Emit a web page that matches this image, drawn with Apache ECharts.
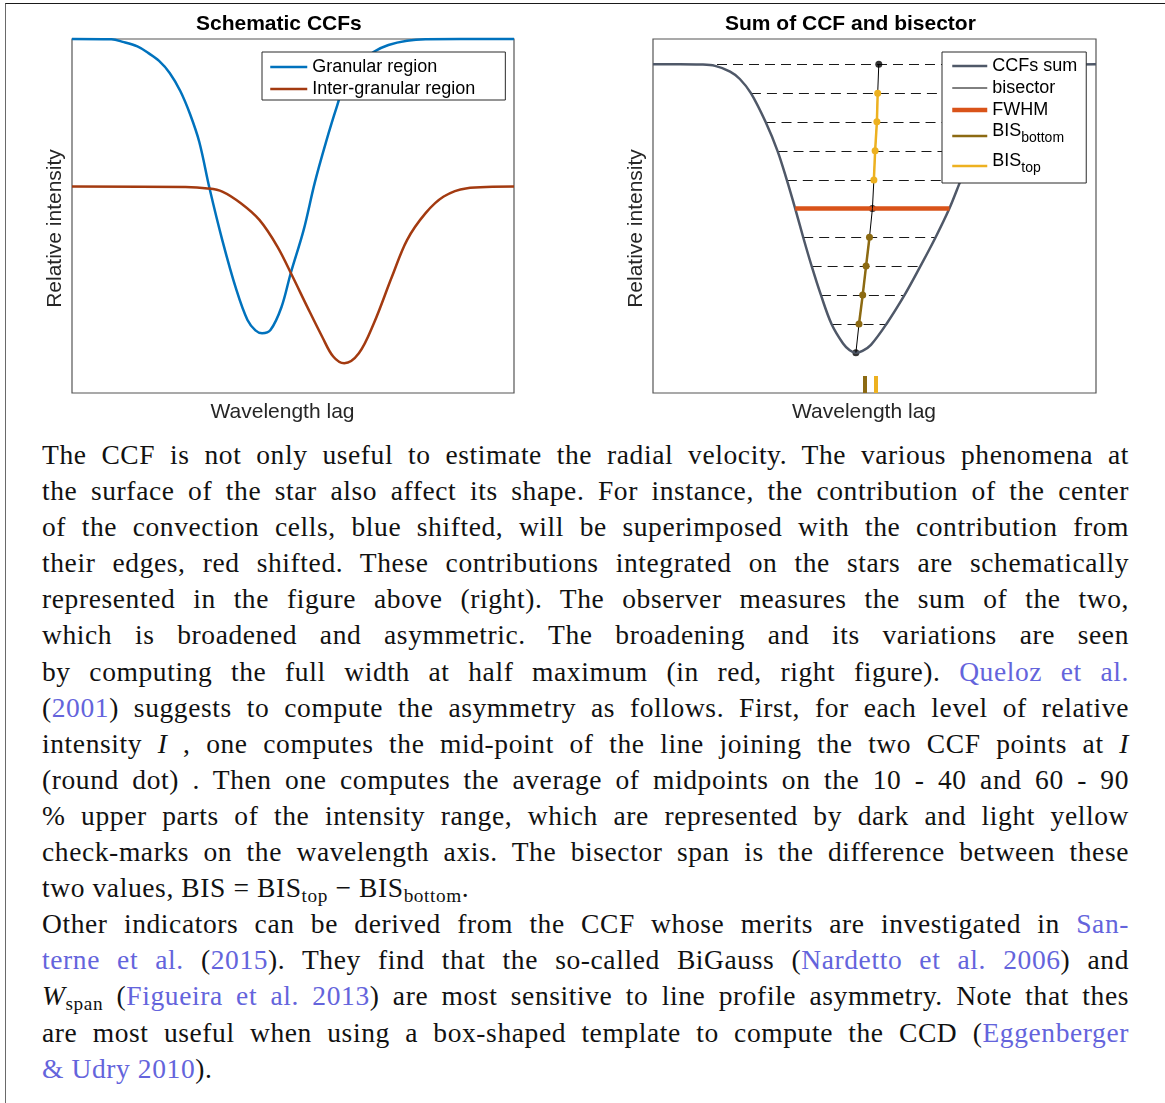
<!DOCTYPE html>
<html>
<head>
<meta charset="utf-8">
<title>Schematic CCFs and bisector</title>
<script src="https://cdn.jsdelivr.net/npm/echarts@6/dist/echarts.min.js"></script>
<style>
  html, body { margin: 0; padding: 0; background: #fff; }
  body { width: 1165px; height: 1103px; position: relative; overflow: hidden; }
  #frame { position: absolute; left: 5px; top: 3px; right: 0; bottom: 0;
           border-top: 1.5px solid #1a1a1a; border-left: 1px solid #6a6a6a; }
  #chart { position: absolute; left: 0; top: 0; width: 1165px; height: 430px; }
  #text { position: absolute; left: 42px; top: 437px; width: 1087px;
          font-family: "Liberation Serif", "DejaVu Serif", serif;
          font-size: 26px; line-height: 36.1px; color: #111; }
  #text .ln { text-align: justify; text-align-last: justify; height: 36.1px; }
  #text .last { text-align: left; text-align-last: left; }
  .cite { color: #6464dc; }
  sub { font-size: 0.7em; vertical-align: -0.28em; line-height: 0; }
</style>
</head>
<body>
<div id="frame"></div>
<div id="chart"></div>
<div id="text">
  <div class="ln">The CCF is not only useful to estimate the radial velocity. The various phenomena at</div>
  <div class="ln">the surface of the star also affect its shape. For instance, the contribution of the center</div>
  <div class="ln">of the convection cells, blue shifted, will be superimposed with the contribution from</div>
  <div class="ln">their edges, red shifted. These contributions integrated on the stars are schematically</div>
  <div class="ln">represented in the figure above (right). The observer measures the sum of the two,</div>
  <div class="ln">which is broadened and asymmetric. The broadening and its variations are seen</div>
  <div class="ln">by computing the full width at half maximum (in red, right figure). <span class="cite">Queloz et al.</span></div>
  <div class="ln">(<span class="cite">2001</span>) suggests to compute the asymmetry as follows. First, for each level of relative</div>
  <div class="ln">intensity <i>I</i> , one computes the mid-point of the line joining the two CCF points at <i>I</i></div>
  <div class="ln">(round dot) . Then one computes the average of midpoints on the 10 - 40 and 60 - 90</div>
  <div class="ln">% upper parts of the intensity range, which are represented by dark and light yellow</div>
  <div class="ln">check-marks on the wavelength axis. The bisector span is the difference between these</div>
  <div class="ln last">two values, BIS = BIS<sub>top</sub> &minus; BIS<sub>bottom</sub>.</div>
  <div class="ln">Other indicators can be derived from the CCF whose merits are investigated in <span class="cite">San-</span></div>
  <div class="ln"><span class="cite">terne et al.</span> (<span class="cite">2015</span>). They find that the so-called BiGauss (<span class="cite">Nardetto et al. 2006</span>) and</div>
  <div class="ln"><i>W</i><sub>span</sub> (<span class="cite">Figueira et al. 2013</span>) are most sensitive to line profile asymmetry. Note that thes</div>
  <div class="ln">are most useful when using a box-shaped template to compute the CCD (<span class="cite">Eggenberger</span></div>
  <div class="ln last"><span class="cite">&amp; Udry 2010</span>).</div>
</div>
<script>
// ---- left panel : the two schematic CCFs (x = % of lag window, y = relative intensity)
var granX = [0, 8.9, 11.5, 14.8, 17.3, 19.7, 22.1, 24.5, 26.7, 28.8, 31.1, 34.0, 37.2, 39.7, 41.5, 43.0,
             44.9, 47.4, 49.5, 52.4, 54.9, 57.4, 59.9, 62.4, 65.2, 68.3, 71.6, 75.8, 80.0, 100];
var granY = [1.000, 0.999, 0.992, 0.979, 0.960, 0.938, 0.904, 0.853, 0.788, 0.709, 0.579, 0.432, 0.291, 0.206, 0.177, 0.169,
             0.178, 0.243, 0.339, 0.460, 0.593, 0.706, 0.808, 0.898, 0.935, 0.964, 0.983, 0.995, 0.999, 1.000];

var interX = [0, 25.7, 30.7, 34.0, 38.2, 42.4, 46.5, 49.9, 53.2, 56.6, 59.1, 61.6,
              64.9, 68.3, 72.4, 75.8, 80.0, 84.1, 89.1, 100];
var interY = [0.583, 0.582, 0.578, 0.569, 0.536, 0.489, 0.413, 0.329, 0.244, 0.159, 0.103, 0.084,
              0.112, 0.197, 0.329, 0.432, 0.508, 0.555, 0.578, 0.583];

// ---- right panel : summed CCF
var sumX = [0, 6.1, 10.6, 14.0, 17.4, 19.6, 22.1, 25.4, 28.1, 30.2, 32.1, 33.9, 35.8, 37.9, 40.3, 42.9, 44.4, 45.8,
            47.3, 49.2, 52.7, 56.8, 60.4, 63.8, 66.9, 69.5, 72.2, 75.6, 79.4, 82.8, 87.4, 91.9, 100];
var sumY = [0.929, 0.929, 0.928, 0.924, 0.908, 0.887, 0.847, 0.766, 0.684, 0.602, 0.521, 0.440, 0.359, 0.277, 0.195, 0.140, 0.121, 0.114,
            0.119, 0.136, 0.195, 0.277, 0.359, 0.440, 0.521, 0.602, 0.684, 0.766, 0.847, 0.896, 0.918, 0.927, 0.929];

// intensity levels (continuum -> minimum) and the bisector mid-points
var levelY = [0.929, 0.847, 0.766, 0.684, 0.602, 0.521, 0.440, 0.359, 0.277, 0.195, 0.114];
var bisX   = [50.97, 50.72, 50.54, 50.14, 49.86, 49.53, 48.87, 48.10, 47.34, 46.50, 45.80];
// dashed level lines : left / right ends
var dashLeft  = [0, 22.1, 25.4, 28.1, 30.2, 32.1, 33.9, 35.8, 37.9, 40.3];
var dashRight = [100, 79.4, 75.6, 72.2, 69.5, 66.9, 63.8, 60.4, 56.8, 52.7];
var fwhmLevel = 5;
var topIdx = [1, 2, 3, 4];
var bottomIdx = [6, 7, 8, 9];
var dotIdx = [0, 5, 10];
var checkHeight = 0.048;

var C = {
    gran: '#0072bd', inter: '#a33a10', sum: '#4f5868', fwhm: '#d95319',
    bisBottom: '#8c6a12', bisTop: '#edb120', axis: '#555555', text: '#262626'
};
var FONT = 'Liberation Sans';

function zip(xs, ys) {
    var out = [];
    for (var i = 0; i < xs.length; i++) out.push([xs[i], ys[i]]);
    return out;
}
function pick(idx) {
    return idx.map(function(i) { return [bisX[i], levelY[i]]; });
}
function mean(idx) {
    var s = 0;
    idx.forEach(function(i) { s += bisX[i]; });
    return s / idx.length;
}

var dashData = [];
for (var i = 0; i < dashLeft.length; i++) {
    dashData.push({ coords: [[dashLeft[i], levelY[i]], [dashRight[i], levelY[i]]] });
}
var bisBottomMean = mean(bottomIdx), bisTopMean = mean(topIdx);

function axisX(idx) {
    return {
        gridIndex: idx, type: 'value', min: 0, max: 100,
        axisLine: { show: false }, axisTick: { show: false }, axisLabel: { show: false }, splitLine: { show: false },
        name: 'Wavelength lag', nameLocation: 'middle', nameGap: 9,
        nameTextStyle: { fontFamily: FONT, fontSize: 21, color: C.text, padding: [0, 21, 0, 0] }
    };
}
function axisY(idx) {
    return {
        gridIndex: idx, type: 'value', min: 0, max: 1,
        axisLine: { show: false }, axisTick: { show: false }, axisLabel: { show: false }, splitLine: { show: false },
        name: 'Relative intensity', nameLocation: 'middle', nameGap: 6,
        nameTextStyle: { fontFamily: FONT, fontSize: 21, color: C.text, padding: [0, 25, 0, 0] }
    };
}
function curve(name, grid, data, color, width) {
    return {
        name: name, type: 'line', xAxisIndex: grid, yAxisIndex: grid, data: data,
        symbol: 'none', smooth: 0.35, clip: false, silent: true,
        lineStyle: { color: color, width: width }, itemStyle: { color: color }
    };
}
var legendBase = {
    orient: 'vertical', selectedMode: false, itemWidth: 37, itemHeight: 14,
    backgroundColor: '#fff', borderColor: '#2a2a2a', borderWidth: 1,
    itemStyle: { opacity: 0 },
    lineStyle: { width: 'inherit' },
    textStyle: { fontFamily: FONT, fontSize: 18, color: '#000', lineHeight: 20 }
};

var option = {
    animation: false,
    title: [
        { text: 'Schematic CCFs', left: 196, top: 14, padding: 0,
          textStyle: { fontFamily: FONT, fontSize: 21, fontWeight: 'bold', color: '#000' } },
        { text: 'Sum of CCF and bisector', left: 725, top: 14, padding: 0,
          textStyle: { fontFamily: FONT, fontSize: 21, fontWeight: 'bold', color: '#000' } }
    ],
    grid: [
        { left: 72, top: 39, width: 442, height: 354, show: true, borderColor: C.axis, borderWidth: 1.2, outerBoundsMode: 'none' },
        { left: 653, top: 39, width: 443, height: 354, show: true, borderColor: C.axis, borderWidth: 1.2, outerBoundsMode: 'none' }
    ],
    xAxis: [axisX(0), axisX(1)],
    yAxis: [axisY(0), axisY(1)],
    legend: [
        Object.assign({}, legendBase, {
            data: ['Granular region', 'Inter-granular region'],
            left: 262, top: 52, padding: [5, 30, 1, 7], itemGap: 2, itemTextGap: 4
        }),
        Object.assign({}, legendBase, {
            data: ['CCFs sum', 'bisector', 'FWHM', 'BIS_bottom', 'BIS_top'],
            left: 942, top: 52, padding: [4, 9, 3, 8], itemGap: 2, itemWidth: 35, itemTextGap: 7,
            formatter: function(name) {
                var p = name.split('_');
                return p.length > 1 ? '{m|' + p[0] + '}{s|' + p[1] + '}' : name;
            },
            textStyle: {
                fontFamily: FONT, fontSize: 18, color: '#000', lineHeight: 20,
                rich: {
                    m: { fontFamily: FONT, fontSize: 18, lineHeight: 28, verticalAlign: 'top' },
                    s: { fontFamily: FONT, fontSize: 14, lineHeight: 28, padding: [9, 0, 0, 0], verticalAlign: 'top' }
                }
            }
        })
    ],
    series: [
        curve('Granular region', 0, zip(granX, granY), C.gran, 2.5),
        curve('Inter-granular region', 0, zip(interX, interY), C.inter, 2.5),

        curve('CCFs sum', 1, zip(sumX, sumY), C.sum, 2.5),
        {
            name: 'FWHM', type: 'line', xAxisIndex: 1, yAxisIndex: 1, symbol: 'none', silent: true,
            data: [[dashLeft[fwhmLevel], levelY[fwhmLevel]], [dashRight[fwhmLevel], levelY[fwhmLevel]]],
            lineStyle: { color: C.fwhm, width: 4.5 }, itemStyle: { color: C.fwhm }
        },
        {
            name: 'levels', type: 'lines', coordinateSystem: 'cartesian2d', xAxisIndex: 1, yAxisIndex: 1,
            silent: true, data: dashData,
            lineStyle: { color: '#1a1a1a', width: 1.2, type: [10, 6], opacity: 1 }
        },
        {
            name: 'bisector', type: 'line', xAxisIndex: 1, yAxisIndex: 1, symbol: 'none', silent: true,
            data: pick(levelY.map(function(v, k) { return k; })),
            lineStyle: { color: '#000', width: 1 }, itemStyle: { color: '#000' }
        },
        {
            name: 'BIS_bottom', type: 'line', xAxisIndex: 1, yAxisIndex: 1, silent: true,
            data: pick(bottomIdx), symbol: 'circle', symbolSize: 7, showSymbol: true,
            lineStyle: { color: C.bisBottom, width: 2.5 }, itemStyle: { color: C.bisBottom }
        },
        {
            name: 'BIS_top', type: 'line', xAxisIndex: 1, yAxisIndex: 1, silent: true,
            data: pick(topIdx), symbol: 'circle', symbolSize: 7, showSymbol: true,
            lineStyle: { color: C.bisTop, width: 2.5 }, itemStyle: { color: C.bisTop }
        },
        {
            name: 'points', type: 'scatter', xAxisIndex: 1, yAxisIndex: 1, silent: true,
            data: pick(dotIdx), symbolSize: 7, itemStyle: { color: '#000' }
        },
        {
            name: 'checks', type: 'lines', coordinateSystem: 'cartesian2d', xAxisIndex: 1, yAxisIndex: 1, silent: true,
            data: [
                { coords: [[bisBottomMean, 0], [bisBottomMean, checkHeight]], lineStyle: { color: C.bisBottom } },
                { coords: [[bisTopMean, 0], [bisTopMean, checkHeight]], lineStyle: { color: C.bisTop } }
            ],
            lineStyle: { width: 4, opacity: 1 }
        }
    ]
};

var chart = echarts.init(document.getElementById('chart'), null, { renderer: 'canvas' });
chart.setOption(option);

// TeX's Computer Modern runs wider than Times: grow the serif face until the
// tightest justified line fills the measure, then a touch of tracking
(function fitText() {
    var box = document.getElementById('text');
    var lines = [].slice.call(box.querySelectorAll('.ln')).filter(function(l) {
        return !l.classList.contains('last');
    });
    var probe = document.createElement('span');
    probe.style.cssText = 'position:absolute;visibility:hidden;white-space:nowrap;left:0;top:0;';
    box.appendChild(probe);
    function measure() {
        return lines.map(function(ln) {
            probe.innerHTML = ln.innerHTML;
            return { w: probe.getBoundingClientRect().width, n: probe.textContent.length };
        });
    }
    var base = 26, m = measure(), widest = 0;
    m.forEach(function(r) { widest = Math.max(widest, r.w); });
    var size = Math.min(27.5, base * 1080 / widest);
    box.style.fontSize = size.toFixed(2) + 'px';
    var spacing = Infinity;
    measure().forEach(function(r) { spacing = Math.min(spacing, (1082 - r.w) / r.n); });
    box.removeChild(probe);
    box.style.letterSpacing = Math.max(0, Math.min(spacing, 0.6)).toFixed(2) + 'px';
})();
</script>
</body>
</html>
